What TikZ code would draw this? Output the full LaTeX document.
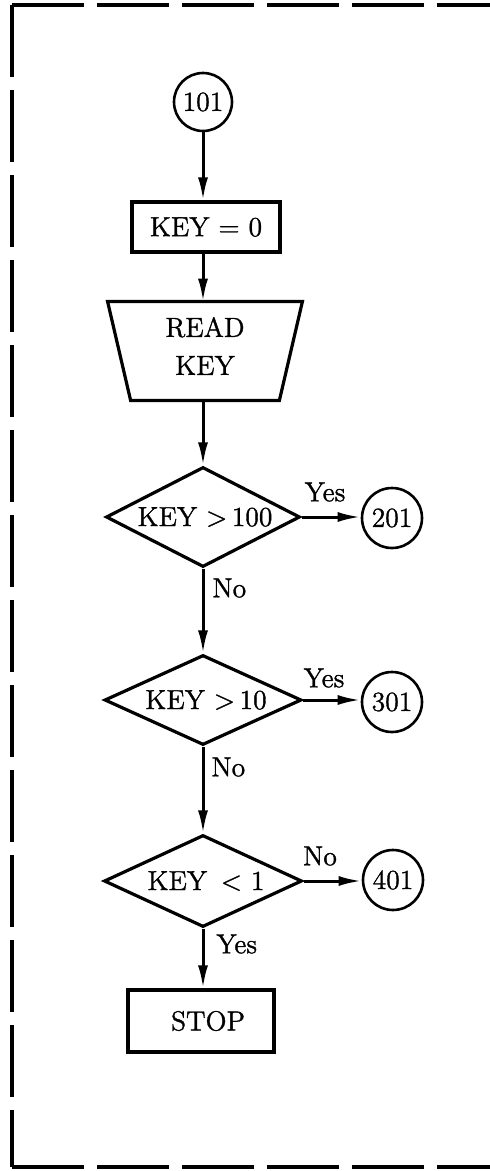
\documentclass[tikz,border=0pt]{standalone}
\usepackage{fontspec}
\newfontfamily\chartfont{Latin Modern Roman}[FakeBold=1.2]
\usetikzlibrary{shapes.geometric,arrows.meta}
\begin{document}
\begin{tikzpicture}[x=0.5pt,y=-0.5pt,
  every node/.style={font=\chartfont\fontsize{13.8}{19}\selectfont},
  flowline/.style={line width=1.5pt,-{Latex[length=11.5pt,width=5pt]}},
  procbox/.style={draw,rectangle,line width=1.6pt,inner sep=0pt},
  connector/.style={draw,circle,line width=1.3pt,minimum size=30pt,inner sep=0pt},
  decision/.style={draw,diamond,line width=1.6pt,inner sep=0pt,aspect=1.94},
  lbl/.style={inner sep=0pt},
  frameline/.style={line width=1.8pt,dash pattern=on 36pt off 6.5pt}
]
\useasboundingbox (0,0) rectangle (490,1171);

% dashed frame (open on the right)
\draw[frameline] (12,5) -- (490,5);
\draw[frameline] (12,5) -- (12,1167);
\draw[frameline] (12,1167) -- (490,1167);

% main column
\node[connector,minimum size=29pt] (n101) at (203,102) {101};
\node[procbox,minimum width=74pt,minimum height=25pt] (init) at (206,227) {KEY = 0};
\node[minimum width=97pt,minimum height=49pt,inner sep=0pt] (read) at (205,351) {};
\draw[line width=1.6pt] (read.north west) -- (read.north east)
  -- ([xshift=-11.5pt]read.south east) -- ([xshift=11.5pt]read.south west) -- cycle;
\node[align=center,inner sep=0pt] (readtxt) at (205,346) {READ\\KEY};
\node[decision,minimum width=97pt,minimum height=50pt] (d1) at (203,517) {\hspace*{2pt}KEY >\,100};
\node[decision,minimum width=98.5pt,minimum height=45pt] (d2) at (203,700) {\hspace*{3pt}KEY >\,10};
\node[decision,minimum width=99pt,minimum height=46pt] (d3) at (203,881) {\hspace*{3pt}KEY\enspace< 1};
\node[procbox,minimum width=73pt,minimum height=31pt] (stop) at (201,1021) {\hspace*{7pt}STOP};

% off-page connectors
\node[connector] (c201) at (392,518) {201};
\node[connector] (c301) at (392,702) {301};
\node[connector] (c401) at (393,880) {401};

% flow lines
\draw[flowline] (n101.south) -- (n101.south |- init.north);
\draw[flowline] (init.south -| n101) -- (read.north -| n101);
\draw[flowline] (read.south -| n101) -- (d1.north);
\draw[flowline] (d1.south) -- (d2.north);
\draw[flowline] (d2.south) -- (d3.north);
\draw[flowline] (d3.south) -- (d3.south |- stop.north);
\draw[flowline] (d1.east) -- (d1.east -| c201.west);
\draw[flowline] (d2.east) -- (d2.east -| c301.west);
\draw[flowline] (d3.east) -- (d3.east -| c401.west);

% branch labels
\node[lbl] (yes1) at (325,492) {Yes};
\node[lbl] (yes2) at (324,678) {Yes};
\node[lbl] (no3) at (320,856) {No};
\node[lbl,anchor=west] (no1) at (212,588) {No};
\node[lbl,anchor=west] (no2) at (211,767) {No};
\node[lbl,anchor=west] (yes3) at (216,944) {Yes};
\end{tikzpicture}
\end{document}
